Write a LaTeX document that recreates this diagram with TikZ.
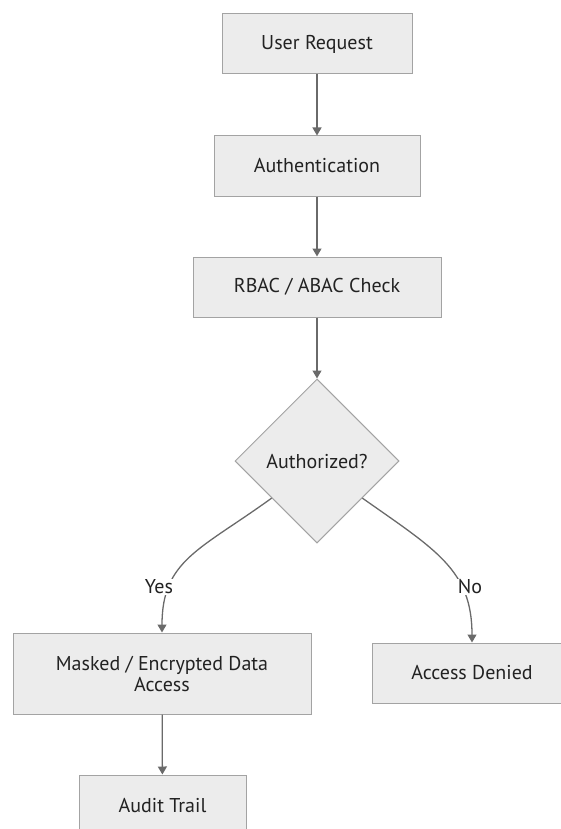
\documentclass[tikz,border=0pt]{standalone}
\usepackage{fontspec}
\setmainfont{PT Sans}
\usetikzlibrary{shapes.geometric,arrows.meta,calc}
\definecolor{boxfill}{HTML}{ECECEC}
\definecolor{boxline}{HTML}{A3A3A3}
\definecolor{edgecol}{HTML}{6A6A6A}
\definecolor{txtcol}{HTML}{222222}
\begin{document}
\begin{tikzpicture}[x=1pt,y=-1pt,
  every node/.style={font=\fontsize{20}{21}\selectfont, text=txtcol},
  procbox/.style={draw=boxline, fill=boxfill, line width=1pt, rectangle, inner sep=0pt, align=center},
  decbox/.style={draw=boxline, fill=boxfill, line width=1pt, diamond, aspect=1, inner sep=0pt, minimum width=164pt, minimum height=164pt},
  flow/.style={draw=edgecol, line width=1.3pt, -{Triangle[length=8pt,width=9pt]}},
  elabel/.style={fill=white, inner sep=1pt}]
\useasboundingbox (0,0) rectangle (561,829);
\clip (0,0) rectangle (561,829);
\node[procbox, minimum width=190pt, minimum height=60pt] (req) at (317,44) {User Request};
\node[procbox, minimum width=206pt, minimum height=60pt] (auth) at (317,166) {Authentication};
\node[procbox, minimum width=248pt, minimum height=60pt] (rbac) at (317,287) {RBAC / ABAC Check};
\node[decbox] (dia) at (317,461) {Authorized?};
\node[procbox, minimum width=298pt, minimum height=81pt] (mask) at (162,673.5) {Masked / Encrypted Data\\Access};
\node[procbox, minimum width=200pt, minimum height=60pt] (deny) at (472,673) {Access Denied};
\node[procbox, minimum width=167pt, minimum height=60pt] (audit) at (162.5,805) {Audit Trail};
\coordinate (yesstart) at ($(dia.west)!0.45!(dia.south)$);
\coordinate (nostart) at ($(dia.east)!0.45!(dia.south)$);
\draw[flow] (req) -- (auth);
\draw[flow] (auth) -- (rbac);
\draw[flow] (rbac) -- (dia);
\draw[flow] (yesstart) .. controls (200,550) and (162,560) .. (mask.north);
\draw[flow] (nostart) .. controls (436,550) and (472,570) .. (deny.north);
\draw[flow] (mask) -- (audit);
\node[elabel] (yes) at (159,587) {Yes};
\node[elabel] (no) at (470,587) {No};
\end{tikzpicture}
\end{document}
